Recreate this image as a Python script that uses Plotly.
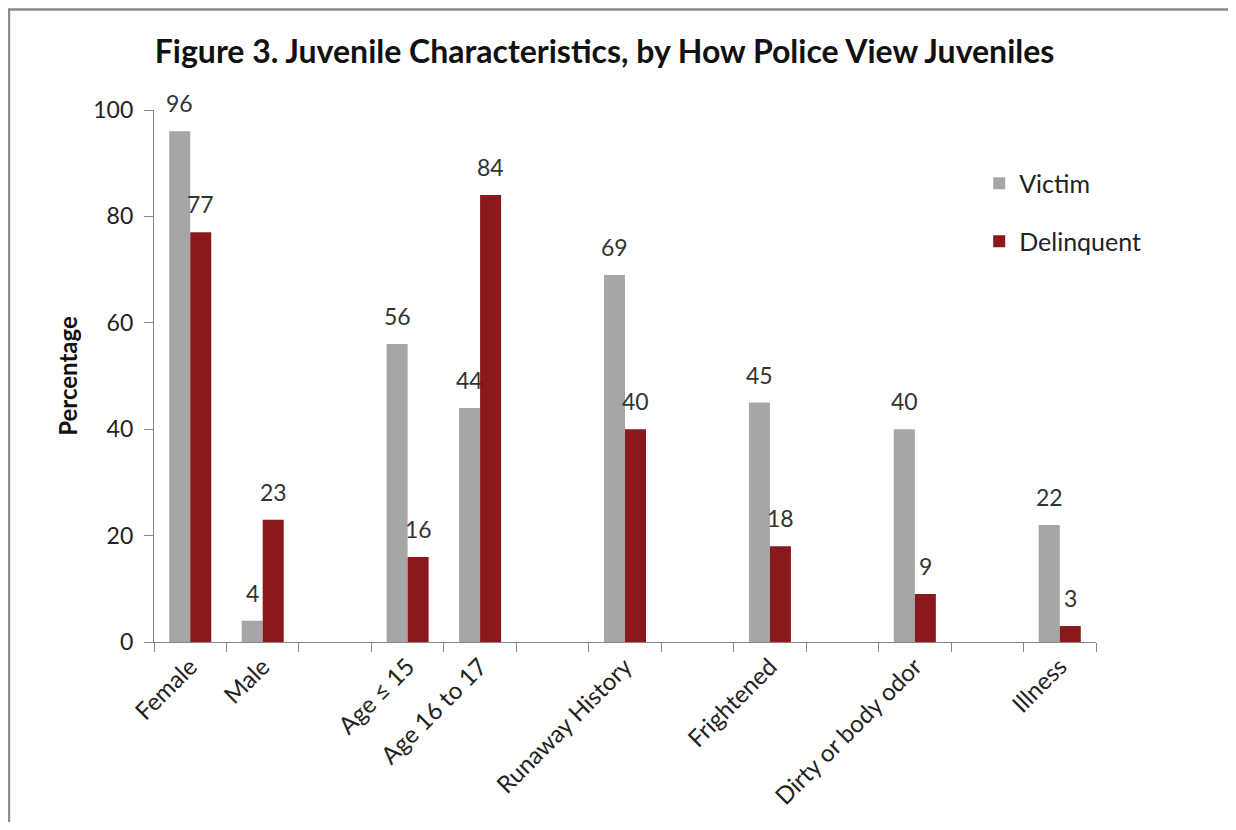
import plotly.graph_objects as go

categories = ["Female", "Male", "Age ≤ 15", "Age 16 to 17", "Runaway History",
              "Frightened", "Dirty or body odor", "Illness"]
victim = [96, 4, 56, 44, 69, 45, 40, 22]
delinquent = [77, 23, 16, 84, 40, 18, 9, 3]
# axis order with empty spacer slots between groups
axis_order = ["Female", "Male", " ", "Age ≤ 15", "Age 16 to 17", "  ",
              "Runaway History", "   ", "Frightened", "    ",
              "Dirty or body odor", "     ", "Illness"]

FONT = "Lato"
BARGAP = 0.42
fig = go.Figure()
fig.add_trace(go.Bar(x=categories, y=victim, name="Victim", showlegend=True,
                     marker=dict(color="#A6A6A6", line=dict(width=0)),
                     legend="legend"))
fig.add_trace(go.Bar(x=categories, y=delinquent, name="Delinquent", showlegend=True,
                     marker=dict(color="#8B181C", line=dict(width=0)),
                     legend="legend2"))

# value labels above each bar (positioned by the axis scales)
plot_w = 1220 - 146 - 132
cat_px = plot_w / len(axis_order)
half_bar_px = cat_px * (1 - BARGAP) / 4
for series, sign in ((victim, -1), (delinquent, 1)):
    for cat, val in zip(categories, series):
        fig.add_annotation(x=cat, y=val, text=str(val), showarrow=False,
                           xref="x", yref="y", yanchor="bottom", xanchor="center",
                           xshift=sign * half_bar_px, yshift=12,
                           font=dict(size=23, color="#333333", family=FONT))

fig.update_layout(
    width=1220, height=814,
    margin=dict(l=146, r=132, t=102, b=177),
    paper_bgcolor="white", plot_bgcolor="white",
    showlegend=True,
    barmode="group", bargap=BARGAP, bargroupgap=0,
    font=dict(family=FONT, size=22, color="#222222"),
    title=dict(text="<b>Figure 3. Juvenile Characteristics, by How Police View Juveniles</b>",
               x=0.489, xanchor="center", y=0.946, yanchor="middle",
               font=dict(size=32, family=FONT, color="#111111")),
    xaxis=dict(type="category", categoryorder="array", categoryarray=axis_order,
               range=[-0.5, 12.5], tickson="boundaries", ticks="outside",
               ticklen=9, tickcolor="#868686", showline=True, linecolor="#868686",
               linewidth=1.3, tickangle=-45, showgrid=False,
               tickfont=dict(size=24, color="#222222")),
    yaxis=dict(range=[0, 100], tickvals=[0, 20, 40, 60, 80, 100], ticks="outside",
               ticklen=9, tickcolor="#868686", showline=True, linecolor="#868686",
               linewidth=1.3, showgrid=False, zeroline=False, ticklabelstandoff=6,
               tickfont=dict(size=23, color="#222222"),
               title=dict(text="<b>Percentage</b>", font=dict(size=24, color="#111111"),
                          standoff=8)),
    legend=dict(x=0.876, y=0.862, xanchor="left", yanchor="middle",
                font=dict(size=25, color="#222222"), bgcolor="rgba(0,0,0,0)"),
    legend2=dict(x=0.876, y=0.753, xanchor="left", yanchor="middle",
                 font=dict(size=25, color="#222222"), bgcolor="rgba(0,0,0,0)"),
    shapes=[dict(type="rect", xref="paper", yref="paper",
                 x0=-0.154, x1=1.2, y0=-0.4, y1=1.189,
                 line=dict(color="#8C8C8C", width=2.5), fillcolor="rgba(0,0,0,0)",
                 layer="below")],
)

fig.write_html("out.html")
